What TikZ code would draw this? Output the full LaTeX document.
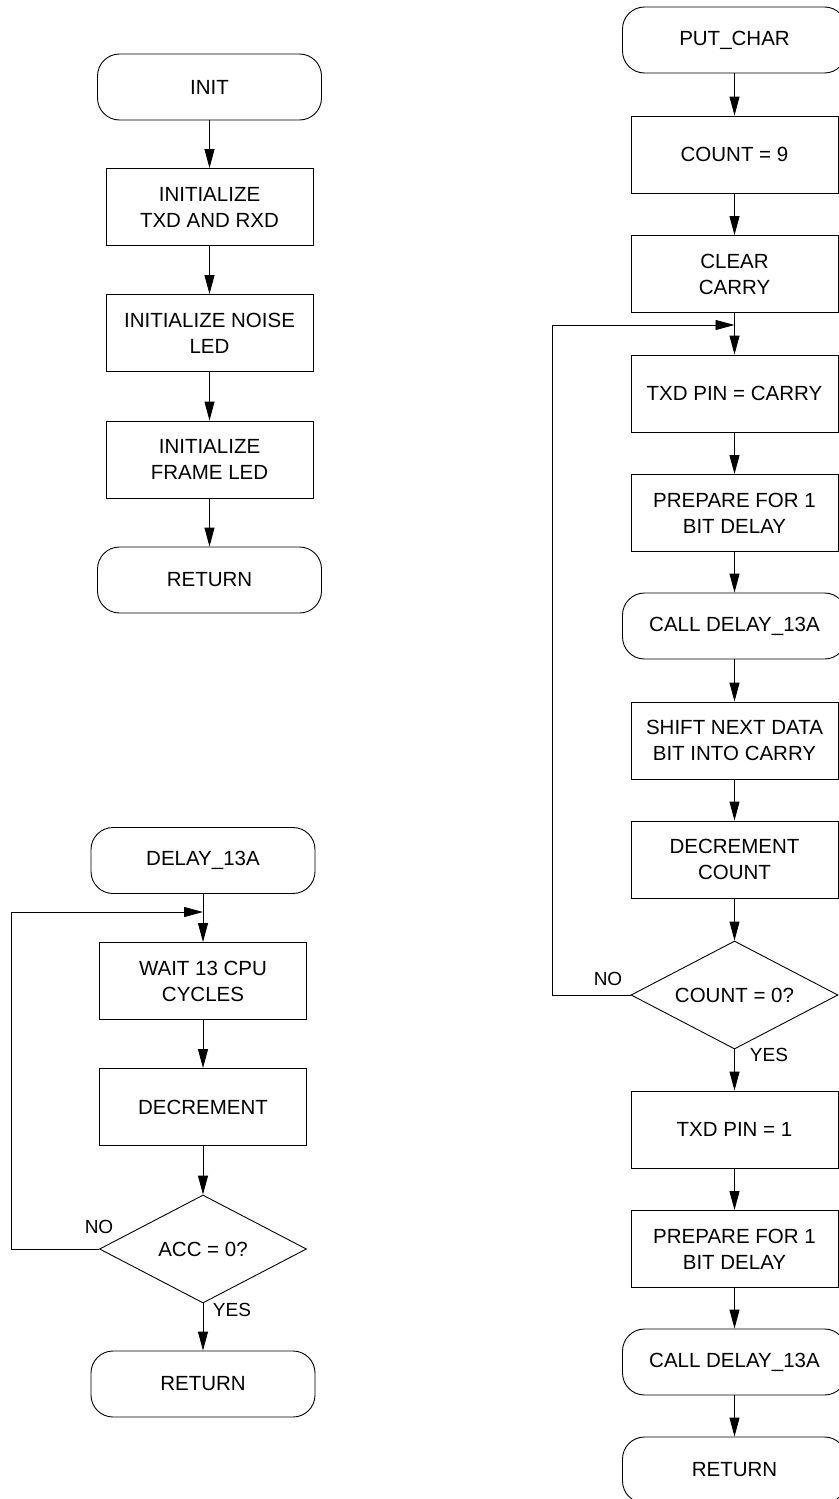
\documentclass[tikz,border=0pt]{standalone}
\usepackage{fontspec}
\setmainfont{Liberation Sans}
\usetikzlibrary{arrows.meta,shapes.geometric}

\tikzset{
	box/.style={draw,rectangle,line width=0.9pt,minimum width=207pt,minimum height=77pt,inner sep=0pt,align=center,font=\fontsize{20.5}{26}\selectfont},
	term/.style={box,rounded corners=22pt,minimum width=224pt,minimum height=66pt},
	decide/.style={draw,diamond,line width=0.9pt,minimum width=207pt,minimum height=108pt,inner sep=0pt,shape aspect=2,font=\fontsize{20.5}{26}\selectfont},
	lab/.style={inner sep=0pt,font=\fontsize{19}{22}\selectfont}
}

\begin{document}
\begin{tikzpicture}[x=1pt,y=-1pt,>={Triangle[length=19pt,width=10pt]},line width=0.9pt]
		\useasboundingbox (0,0) rectangle (838,1499);
		% INIT
		\node[term] (init) at (209.5,87) {INIT};
		\node[box] (txrx) at (209.5,207) {INITIALIZE\\TXD AND RXD};
		\node[box] (noise) at (209.5,333) {INITIALIZE NOISE\\LED};
		\node[box] (frame) at (209.5,459.5) {INITIALIZE\\FRAME LED};
		\node[term] (iret) at (209.5,580) {RETURN};
		\draw[->] (init) -- (txrx);
		\draw[->] (txrx) -- (noise);
		\draw[->] (noise) -- (frame);
		\draw[->] (frame) -- (iret);
		% DELAY_13A
		\node[term] (delay) at (203,860.5) {DELAY\_13A};
		\node[box] (wait) at (203,981) {WAIT 13 CPU\\CYCLES};
		\node[box] (dec) at (203,1107) {DECREMENT};
		\node[decide] (acc) at (203,1249) {ACC = 0?};
		\node[term] (dret) at (203,1384) {RETURN};
		\coordinate (dloop) at (203,912);
		\draw[->] (delay) -- (wait);
		\draw[->] (wait) -- (dec);
		\draw[->] (dec) -- (acc);
		\draw[->] (acc) -- (dret);
		\draw[->] (acc.west) -- ++(-88,0) |- (dloop);
		\node[lab] (dno) at (99,1227) {NO};
		\node[lab] (dyes) at (232,1310) {YES};
		% PUT_CHAR
		\node[term] (put) at (734.5,40) {PUT\_CHAR};
		\node[box] (cnt) at (734.5,154.5) {COUNT = 9};
		\node[box] (clr) at (734.5,274) {CLEAR\\CARRY};
		\node[box] (pin) at (734.5,393.5) {TXD PIN = CARRY};
		\node[box] (prep) at (734.5,513) {PREPARE FOR 1\\BIT DELAY};
		\node[term] (call) at (734.5,626) {CALL DELAY\_13A};
		\node[box] (shift) at (734.5,740.5) {SHIFT NEXT DATA\\BIT INTO CARRY};
		\node[box] (cdec) at (734.5,859.5) {DECREMENT\\COUNT};
		\node[decide] (czero) at (734.5,995) {COUNT = 0?};
		\node[box] (pin1) at (734.5,1129.5) {TXD PIN = 1};
		\node[box] (prep2) at (734.5,1249) {PREPARE FOR 1\\BIT DELAY};
		\node[term] (call2) at (734.5,1362) {CALL DELAY\_13A};
		\node[term] (pret) at (734.5,1470) {RETURN};
		\coordinate (ploop) at (734.5,325);
		\draw[->] (put) -- (cnt);
		\draw[->] (cnt) -- (clr);
		\draw[->] (clr) -- (pin);
		\draw[->] (pin) -- (prep);
		\draw[->] (prep) -- (call);
		\draw[->] (call) -- (shift);
		\draw[->] (shift) -- (cdec);
		\draw[->] (cdec) -- (czero);
		\draw[->] (czero) -- (pin1);
		\draw[->] (pin1) -- (prep2);
		\draw[->] (prep2) -- (call2);
		\draw[->] (call2) -- (pret);
		\draw[->] (czero.west) -- ++(-78,0) |- (ploop);
		\node[lab] (cno) at (608,979) {NO};
		\node[lab] (cyes) at (769,1055) {YES};
	\end{tikzpicture}
\end{document}
